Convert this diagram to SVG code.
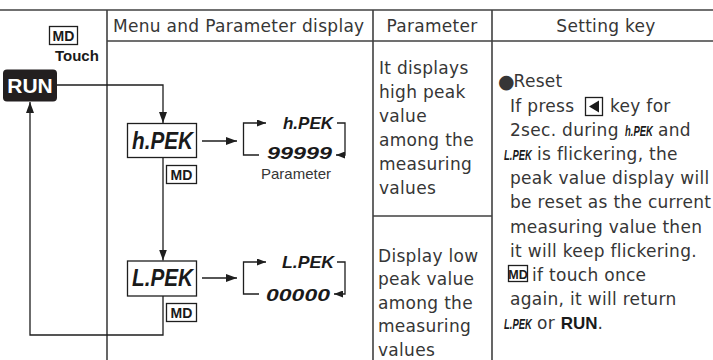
<svg xmlns="http://www.w3.org/2000/svg" width="713" height="360" viewBox="0 0 713 360">
<style>
.t{font-family:"DejaVu Sans",sans-serif;font-size:17px;fill:#363636;letter-spacing:0.3px}
.seg{font-family:"Liberation Sans",Arial,sans-serif;font-weight:bold;font-style:italic;fill:#1a1a1a}
.b{font-family:"Liberation Sans",Arial,sans-serif;font-weight:bold;fill:#1a1a1a}
.grid{stroke:#404040;stroke-width:1.6;fill:none}
.conn{stroke:#1e1e1e;stroke-width:1.3;fill:none}
.box{fill:#fff;stroke:#1e1e1e;stroke-width:1.3}
</style>
<defs>
<marker id="ah" markerUnits="userSpaceOnUse" markerWidth="11" markerHeight="8" refX="11" refY="4" orient="auto"><path d="M0,0 L11,4 L0,8 z" fill="#1e1e1e"/></marker>
<marker id="ahs" markerUnits="userSpaceOnUse" markerWidth="9" markerHeight="7" refX="9" refY="3.5" orient="auto"><path d="M0,0 L9,3.5 L0,7 z" fill="#1e1e1e"/></marker>
</defs>
<rect width="713" height="360" fill="#fff"/>
<g id="table">
<line class="grid" x1="0" y1="10" x2="713" y2="10"/>
<line class="grid" x1="107" y1="41" x2="713" y2="41"/>
<line class="grid" x1="107" y1="10" x2="107" y2="360"/>
<line class="grid" x1="373" y1="10" x2="373" y2="360"/>
<line class="grid" x1="492" y1="10" x2="492" y2="360"/>
<line class="grid" x1="373" y1="216" x2="492" y2="216"/>
<text class="t" x="113" y="31.7">Menu and Parameter display</text>
<text class="t" x="432" y="31.7" text-anchor="middle">Parameter</text>
<text class="t" x="606" y="31.7" text-anchor="middle">Setting key</text>
</g>
<g id="connectors">
<path class="conn" d="M57,85 H163 V123" marker-end="url(#ah)"/>
<path class="conn" d="M163,157.5 V260.5" marker-end="url(#ah)"/>
<path class="conn" d="M202,141 H237" marker-end="url(#ah)"/>
<path class="conn" d="M202,278 H237" marker-end="url(#ah)"/>
<path class="conn" d="M163,296 V335 H30 V102" marker-end="url(#ah)"/>
<path class="conn" d="M259,155 H243.5 V123 H266" marker-end="url(#ahs)"/>
<path class="conn" d="M337,123 H345 V155 H336" marker-end="url(#ahs)"/>
<path class="conn" d="M259,294 H243.5 V262 H266" marker-end="url(#ahs)"/>
<path class="conn" d="M337,262 H345 V294 H334" marker-end="url(#ahs)"/>
</g>
<g id="md-touch">
<rect class="box" x="49.5" y="26.5" width="28" height="18"/>
<text class="b" x="63.5" y="41" font-size="14" text-anchor="middle">MD</text>
<text class="b" x="55" y="61" font-size="15">Touch</text>
</g>
<g id="run">
<rect x="3" y="69.5" width="54" height="32" rx="4" fill="#231f20"/>
<text class="b" x="30" y="93" font-size="21" text-anchor="middle" style="fill:#fff">RUN</text>
</g>
<g id="hpek">
<rect class="box" x="127.5" y="123.5" width="69" height="34"/>
<text class="seg" x="132" y="149" font-size="23" textLength="61" lengthAdjust="spacingAndGlyphs">h.PEK</text>
</g>
<g id="hpek-md">
<rect class="box" x="166.5" y="165.5" width="30" height="18"/>
<text class="b" x="181.5" y="180" font-size="14" text-anchor="middle">MD</text>
</g>
<g id="hpek-param">
<text class="seg" x="283" y="129" font-size="17" textLength="50" lengthAdjust="spacingAndGlyphs">h.PEK</text>
<text class="seg" x="267" y="158.5" font-size="17" textLength="65" lengthAdjust="spacingAndGlyphs">99999</text>
<text x="296" y="179" font-family="Liberation Sans, Arial, sans-serif" font-size="15" fill="#363636" text-anchor="middle">Parameter</text>
</g>
<g id="lpek">
<rect class="box" x="127.5" y="261" width="69" height="35"/>
<text class="seg" x="132" y="286" font-size="23" textLength="61" lengthAdjust="spacingAndGlyphs">L.PEK</text>
</g>
<g id="lpek-md">
<rect class="box" x="166.5" y="303.5" width="30" height="18"/>
<text class="b" x="181.5" y="318" font-size="14" text-anchor="middle">MD</text>
</g>
<g id="lpek-param">
<text class="seg" x="282" y="268" font-size="17" textLength="52" lengthAdjust="spacingAndGlyphs">L.PEK</text>
<text class="seg" x="266" y="300.5" font-size="17" textLength="64" lengthAdjust="spacingAndGlyphs">00000</text>
</g>
<g id="param-high">
<text class="t" x="379" y="73.5">It displays</text>
<text class="t" x="379" y="97.5">high peak</text>
<text class="t" x="379" y="121.5">value</text>
<text class="t" x="379" y="145.5">among the</text>
<text class="t" x="379" y="169.5">measuring</text>
<text class="t" x="379" y="193.5">values</text>
</g>
<g id="param-low">
<text class="t" x="378" y="261.5">Display low</text>
<text class="t" x="378" y="285">peak value</text>
<text class="t" x="378" y="308.5">among the</text>
<text class="t" x="378" y="332">measuring</text>
<text class="t" x="378" y="355.5">values</text>
</g>
<g id="setting-key">
<text class="t" x="498" y="87.3"><tspan font-size="19" dy="0.5" letter-spacing="-1">●</tspan><tspan dy="-0.5">Reset</tspan></text>
<text class="t" x="510" y="111.5">If press</text>
<rect class="box" x="585.5" y="97.5" width="17" height="18"/>
<path d="M589,106.5 L599,100.5 L599,112.5 z" fill="#1a1a1a"/>
<text class="t" x="610" y="111.5">key for</text>
<text class="t" x="510" y="135.7">2sec. during</text>
<text class="seg" font-size="11" transform="translate(625,135.7) scale(0.86,1.4)">h.PEK</text>
<text class="t" x="658" y="135.7">and</text>
<text class="seg" font-size="11" transform="translate(504,159.9) scale(0.86,1.4)">L.PEK</text>
<text class="t" x="537" y="159.9">is flickering, the</text>
<text class="t" x="510" y="184.1">peak value display will</text>
<text class="t" x="510" y="208.3">be reset as the current</text>
<text class="t" x="510" y="232.5">measuring value then</text>
<text class="t" x="510" y="256.7">it will keep flickering.</text>
<rect class="box" x="508.5" y="265.5" width="19" height="16"/>
<text class="b" x="518" y="278.5" font-size="12.5" text-anchor="middle">MD</text>
<text class="t" x="532" y="280.9">if touch once</text>
<text class="t" x="510" y="305.1">again, it will return</text>
<text class="seg" font-size="11" transform="translate(504,329.3) scale(0.86,1.4)">L.PEK</text>
<text class="t" x="537" y="329.3">or <tspan class="b" font-size="17" letter-spacing="0">RUN</tspan>.</text>
</g>
</svg>
